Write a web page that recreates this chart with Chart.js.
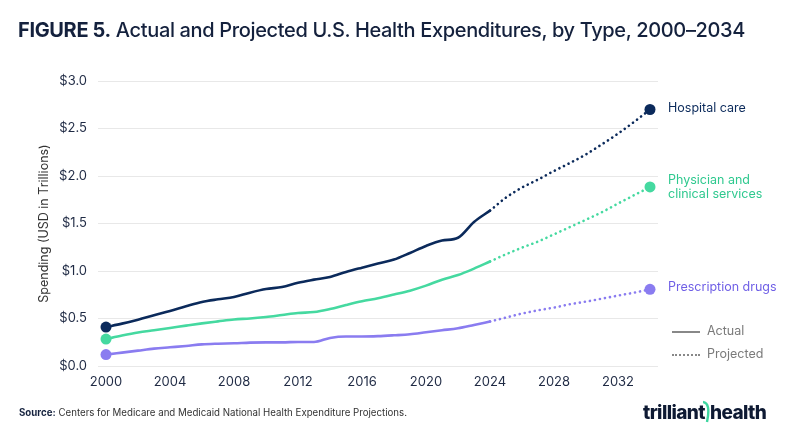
<!DOCTYPE html>
<html>
<head>
<meta charset="utf-8">
<script src="https://cdn.jsdelivr.net/npm/chart.js@4/dist/chart.umd.min.js"></script>
<style>
  html, body { margin: 0; padding: 0; background: #fff; }
  body { width: 800px; height: 436px; position: relative; overflow: hidden; font-family: Inter, "DejaVu Sans", sans-serif; }
  #wrap { position: absolute; left: 0; top: 0; width: 800px; height: 436px; }
  .title { position: absolute; left: 18px; top: 18px; font-size: 20px; font-weight: 500; color: #14213d; letter-spacing: -0.35px; white-space: nowrap; }
  .title b { font-weight: 700; }
  .lab { position: absolute; left: 668px; font-size: 12.5px; line-height: 14px; white-space: nowrap; }
  .leg { position: absolute; left: 672px; font-size: 12.5px; color: #7a7a7a; white-space: nowrap; }
  .leg span.sw { display: inline-block; width: 28px; vertical-align: middle; margin-right: 7px; }
  .src { position: absolute; left: 19px; top: 407px; font-size: 9.7px; color: #333; white-space: nowrap; }
  .src b { color: #14213d; }
  .logo { position: absolute; left: 643px; top: 400px; font-size: 19px; font-weight: 800; color: #0e1a33; letter-spacing: -0.6px; white-space: nowrap; }
</style>
</head>
<body>
<div id="wrap"><canvas id="c" width="800" height="436"></canvas></div>
<div class="title"><b>FIGURE 5.</b> Actual and Projected U.S. Health Expenditures, by Type, 2000–2034</div>
<div class="lab" style="top:101px;color:#0b2a5b;">Hospital care</div>
<div class="lab" style="top:173px;color:#2fc98f;">Physician and<br>clinical services</div>
<div class="lab" style="top:280px;color:#6f5fe6;">Prescription drugs</div>
<div class="leg" style="top:323px;"><span class="sw" style="border-top:2.5px solid #888;"></span>Actual</div>
<div class="leg" style="top:346px;"><span class="sw" style="border-top:2.5px dotted #888;"></span>Projected</div>
<div class="src"><b>Source:</b> Centers for Medicare and Medicaid National Health Expenditure Projections.</div>
<div class="logo">trilliant<svg width="8" height="24" style="vertical-align:-5px;margin:0 -1px 0 -2px;" viewBox="0 0 8 24"><path d="M0 2 Q8 3 4 22" stroke="#3ed6a0" stroke-width="2.4" fill="none"/></svg>health</div>
<script>
const years = [];
for (let y = 2000; y <= 2034; y++) years.push(String(y));

// Actual values 2000-2024 (USD trillions)
const hospitalActual = [0.41,0.446,0.488,0.534,0.579,0.628,0.674,0.702,0.726,0.772,0.81,0.832,0.877,0.909,0.937,0.99,1.035,1.078,1.12,1.19,1.264,1.32,1.35,1.516,1.635];
const physicianActual = [0.284,0.32,0.352,0.376,0.40,0.425,0.449,0.47,0.49,0.50,0.516,0.537,0.558,0.568,0.60,0.642,0.681,0.713,0.752,0.793,0.846,0.909,0.958,1.025,1.10];
const drugsActual = [0.12,0.141,0.162,0.183,0.197,0.211,0.228,0.235,0.239,0.246,0.249,0.249,0.253,0.253,0.295,0.31,0.31,0.314,0.323,0.334,0.355,0.376,0.397,0.432,0.468];

// Projected values 2024-2034
const hospitalProj = [1.635,1.773,1.878,1.962,2.053,2.137,2.228,2.334,2.446,2.569,2.70];
const physicianProj = [1.10,1.176,1.246,1.31,1.386,1.463,1.54,1.62,1.71,1.797,1.885];
const drugsProj = [0.468,0.51,0.552,0.586,0.615,0.65,0.678,0.709,0.741,0.772,0.807];

const yTicks = [0, 0.5, 1.0, 1.5, 2.0, 2.5, 3.0];

const NAVY = '#0b2a5b', GREEN = '#45d9a0', PURPLE = '#8a7cf0';

function padActual(arr) { return arr.concat(new Array(years.length - arr.length).fill(null)); }
function padProj(arr) { return new Array(years.length - arr.length).fill(null).concat(arr); }

function actualDs(label, arr, color) {
  const radii = arr.map((v, i) => i === 0 ? 5.5 : 0);
  return { label, data: padActual(arr), borderColor: color, backgroundColor: color,
    borderWidth: 2.6, pointRadius: padActual(radii), pointHoverRadius: 0, pointBorderWidth: 0,
    cubicInterpolationMode: 'monotone', spanGaps: false, borderCapStyle: 'round' };
}
function projDs(label, arr, color) {
  const radii = arr.map((v, i) => i === arr.length - 1 ? 5.5 : 0);
  return { label, data: padProj(arr), borderColor: color, backgroundColor: color,
    borderWidth: 2.6, borderDash: [0.1, 5], borderCapStyle: 'round',
    pointRadius: padProj(radii), pointHoverRadius: 0, pointBorderWidth: 0,
    cubicInterpolationMode: 'monotone', spanGaps: false };
}

new Chart(document.getElementById('c'), {
  type: 'line',
  data: {
    labels: years,
    datasets: [
      actualDs('Hospital care', hospitalActual, NAVY),
      projDs('Hospital care (projected)', hospitalProj, NAVY),
      actualDs('Physician and clinical services', physicianActual, GREEN),
      projDs('Physician and clinical services (projected)', physicianProj, GREEN),
      actualDs('Prescription drugs', drugsActual, PURPLE),
      projDs('Prescription drugs (projected)', drugsProj, PURPLE)
    ]
  },
  options: {
    responsive: false,
    animation: false,
    events: [],
    layout: { padding: { left: 0, right: 142, top: 81, bottom: 40 } },
    plugins: { legend: { display: false }, tooltip: { enabled: false } },
    scales: {
      x: {
        type: 'category',
        offset: true,
        grid: { display: false, drawTicks: false },
        border: { display: false },
        afterFit: s => { s.height = 30; },
        ticks: {
          autoSkip: false, maxRotation: 0, padding: 8, color: '#1f2a44',
          font: { family: 'Inter', size: 13 },
          callback: function(v, i) { const y = Number(years[i]); return (y - 2000) % 4 === 0 ? years[i] : ''; }
        }
      },
      y: {
        min: 0, max: 3,
        afterFit: s => { s.width = 98; },
        afterBuildTicks: s => { s.ticks = yTicks.map(v => ({ value: v })); },
        grid: { color: '#e8e8e8', lineWidth: 1, drawTicks: false },
        border: { display: false },
        ticks: { padding: 11, color: '#1f2a44', font: { family: 'Inter', size: 13 },
          callback: v => '$' + Number(v).toFixed(1) },
        title: { display: true, text: 'Spending (USD in Trillions)', color: '#333',
          font: { family: 'Inter', size: 12.5 }, padding: { top: 37, bottom: 0 } }
      }
    }
  }
});
</script>
</body>
</html>
